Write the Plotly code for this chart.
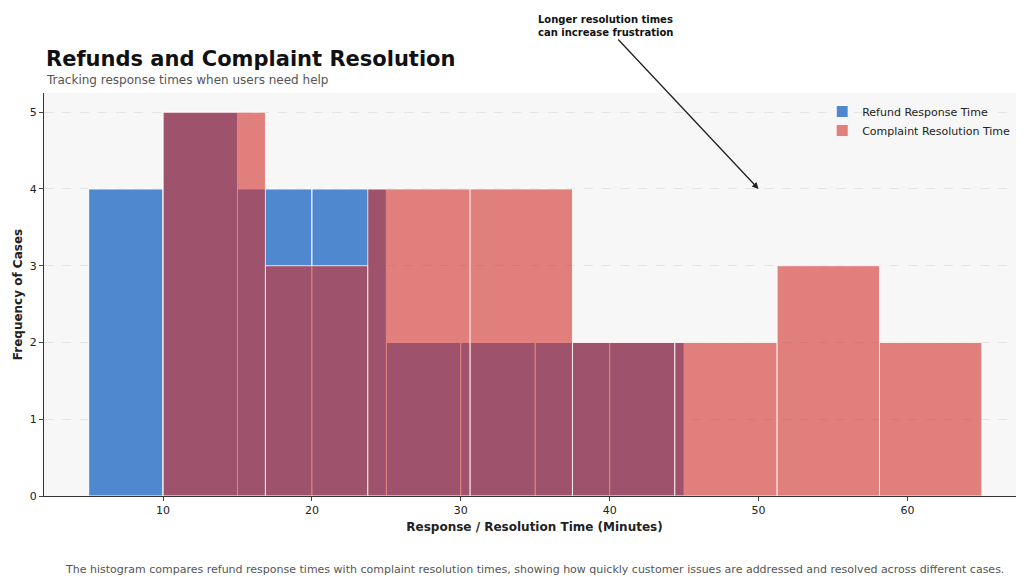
import plotly.graph_objects as go

# bin edges and counts
refund_edges = [5, 10, 15, 20, 25, 30, 35, 40, 45]
refund_counts = [4, 5, 4, 4, 2, 2, 2, 2]
complaint_edges = [10, 16.875, 23.75, 30.625, 37.5, 44.375, 51.25, 58.125, 65]
complaint_counts = [5, 3, 4, 4, 2, 2, 3, 2]


def centers(edges):
    return [(a + b) / 2 for a, b in zip(edges[:-1], edges[1:])]


def widths(edges):
    return [b - a for a, b in zip(edges[:-1], edges[1:])]


fig = go.Figure()
fig.add_trace(go.Bar(
    x=centers(refund_edges), y=refund_counts, width=widths(refund_edges),
    name="Refund Response Time",
    marker=dict(color="rgb(80,136,208)", line=dict(color="white", width=1)),
))
fig.add_trace(go.Bar(
    x=centers(complaint_edges), y=complaint_counts, width=widths(complaint_edges),
    name="Complaint Resolution Time",
    marker=dict(color="rgba(210,46,42,0.6)", line=dict(color="rgba(255,255,255,0.8)", width=1)),
))

fig.update_layout(
    barmode="overlay",
    width=1024, height=577,
    margin=dict(l=36, r=7, t=85, b=89),
    paper_bgcolor="white", plot_bgcolor="#f7f7f7",
    font=dict(family="DejaVu Sans", size=11, color="#222"),
    showlegend=True,
    legend=dict(x=0.99, y=0.99, xanchor="right", yanchor="top",
                bgcolor="rgba(0,0,0,0)", font=dict(size=11), tracegroupgap=0),
    xaxis=dict(range=[2.0, 67.9], tickvals=[10, 20, 30, 40, 50, 60], automargin=False,
               showgrid=False, zeroline=False, showline=True, linecolor="#333",
               ticks="outside", ticklen=4,
               title=dict(text="<b>Response / Resolution Time (Minutes)</b>", font=dict(size=12), standoff=6)),
    yaxis=dict(range=[0, 5.25], tickvals=[0, 1, 2, 3, 4, 5], automargin=False,
               showgrid=True, gridcolor="#e4e4e4", griddash="dash", zeroline=False,
               showline=True, linecolor="#333", ticks="outside", ticklen=4,
               title=dict(text="<b>Frequency of Cases</b>", font=dict(size=12), standoff=4)),
    annotations=[
        dict(text="<b>Refunds and Complaint Resolution</b>", xref="paper", yref="paper",
             x=0, y=1, xanchor="left", yanchor="bottom", yshift=20, showarrow=False,
             font=dict(size=21, color="#111")),
        dict(text="Tracking response times when users need help", xref="paper", yref="paper",
             x=0, y=1, xanchor="left", yanchor="bottom", yshift=4, showarrow=False,
             font=dict(size=12, color="#555")),
        dict(text="<b>Longer resolution times<br>can increase frustration</b>", x=50, y=4,
             ax=-153, ay=-163, showarrow=True, arrowhead=2,
             arrowwidth=1.3, arrowcolor="#222", font=dict(size=10, color="#111"),
             align="left"),
        dict(text="The histogram compares refund response times with complaint resolution times, "
                  "showing how quickly customer issues are addressed and resolved across different cases.",
             xref="paper", yref="paper", x=0.5, y=0, yshift=-82, xanchor="center", yanchor="bottom",
             showarrow=False, font=dict(size=11, color="#555")),
    ],
)
fig.write_html("out.html")
